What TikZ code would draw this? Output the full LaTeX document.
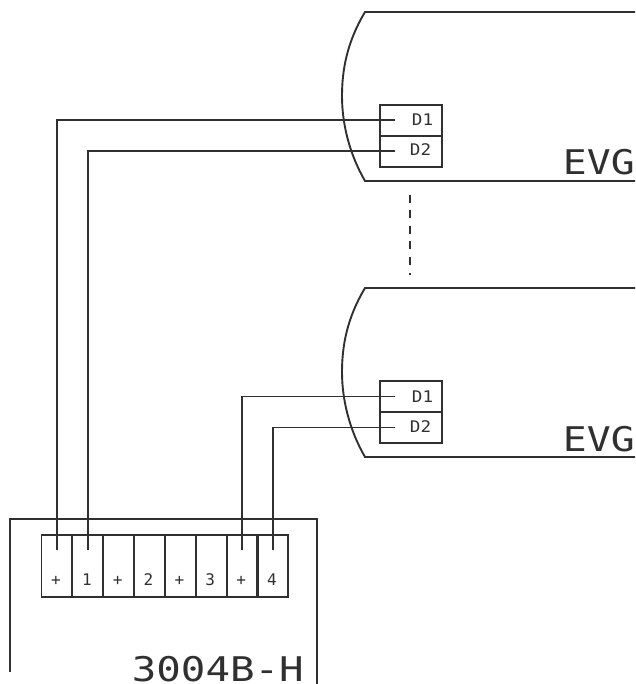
\documentclass[tikz,border=0pt]{standalone}
\usepackage{fontspec}
\setmainfont{DejaVu Sans Mono}
\definecolor{ink}{HTML}{303030}
\tikzset{
  x=1pt,y=-1pt,
  cell/.style={draw=ink,line width=1.9pt,rectangle,inner sep=0pt,minimum width=31pt,minimum height=62pt,text=ink},
  port/.style={draw=ink,line width=1.9pt,rectangle,inner sep=0pt,minimum width=62pt,minimum height=31pt,text=ink},
  small/.style={text=ink,inner sep=0pt,anchor=base,font=\fontsize{16}{16}\selectfont},
  big/.style={text=ink,inner sep=0pt,anchor=base east,font=\fontsize{34}{34}\selectfont},
  wire/.style={draw=ink,line width=1.9pt},
  hull/.style={draw=ink,line width=1.9pt},
}
\begin{document}
\begin{tikzpicture}
\useasboundingbox[draw=none] (0,0) rectangle (635,684);
% upper EVG outline
\coordinate (ua) at (635,12);
\coordinate (ub) at (365,12);
\coordinate (uc) at (365,181);
\coordinate (ud) at (635,181);
\draw[hull] (ua) -- (ub) .. controls (347,42) and (342,70) .. (342,96) .. controls (342,125) and (350,155) .. (uc) -- (ud);
% lower EVG outline
\coordinate (la) at (635,288);
\coordinate (lb) at (365,288);
\coordinate (lc) at (365,457);
\coordinate (ld) at (635,457);
\draw[hull] (la) -- (lb) .. controls (347,318) and (342,346) .. (342,372) .. controls (342,401) and (350,431) .. (lc) -- (ld);
% ports
\node[port,anchor=north west] (u1) at (379,104) {};
\node[port,anchor=north west] (u2) at (379,135) {};
\node[port,anchor=north west] (l1) at (379,380) {};
\node[port,anchor=north west] (l2) at (379,411) {};
\node[small] (ut1) at (422.5,125.5) {\scalebox{1.1}[1]{D1}};
\node[small] (ut2) at (420.5,156) {\scalebox{1.1}[1]{D2}};
\node[small] (lt1) at (422.5,402) {\scalebox{1.1}[1]{D1}};
\node[small] (lt2) at (420.5,432.5) {\scalebox{1.1}[1]{D2}};
\node[big] (ue) at (635,175) {\scalebox{1.17}[1]{EVG}};
\node[big] (le) at (635,451) {\scalebox{1.17}[1]{EVG}};
% dashed link
\coordinate (da) at (410,195);
\coordinate (db) at (410,275);
\draw[wire,dash pattern=on 8pt off 7.5pt] (da) -- (db);
% controller outline
\coordinate (ca) at (10,672);
\coordinate (cb) at (10,519);
\coordinate (cc) at (317,519);
\coordinate (cd) at (317,684);
\draw[hull] (ca) -- (cb) -- (cc) -- (cd);
% terminal cells
\foreach \i/\t in {0/+,1/1,2/+,3/2,4/+,5/3,6/+,7/4}{
  \node[cell,anchor=north west] (t\i) at ({40.5+30.85*\i},534) {};
  \node[small] (tl\i) at ({56+30.85*\i},585) {\t};
}
\node[big] (title) at (304,681) {\scalebox{1.2}[1]{3004B-H}};
% wires
\coordinate (wu1) at ([xshift=16pt]u1.west);
\coordinate (wu2) at ([xshift=16pt]u2.west);
\coordinate (wl1) at ([xshift=16pt]l1.west);
\coordinate (wl2) at ([xshift=16pt]l2.west);
\coordinate (e0) at ([yshift=-16pt]t0.north);
\coordinate (e1) at ([yshift=-16pt]t1.north);
\coordinate (e6) at ([yshift=-16pt]t6.north);
\coordinate (e7) at ([yshift=-16pt]t7.north);
\draw[wire] (wu1) -| (e0);
\draw[wire] (wu2) -| (e1);
\draw[wire] (wl1) -| (e6);
\draw[wire] (wl2) -| (e7);
\end{tikzpicture}
\end{document}
